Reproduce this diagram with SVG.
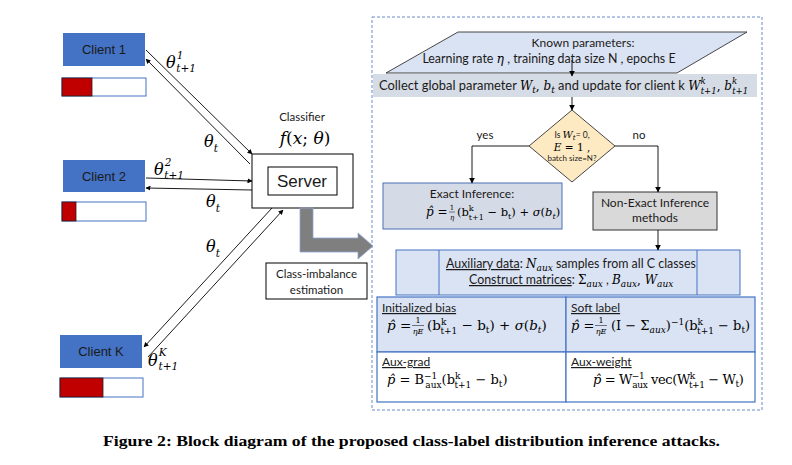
<svg xmlns="http://www.w3.org/2000/svg" width="792" height="465" viewBox="0 0 792 465">
<defs>
<marker id="ah" viewBox="0 0 10 10" refX="9" refY="5" markerWidth="5" markerHeight="5" markerUnits="userSpaceOnUse" orient="auto"><path d="M0,0 L10,5 L0,10 Z" fill="#000"/></marker>
<marker id="ah2" viewBox="0 0 10 10" refX="9" refY="5" markerWidth="6" markerHeight="6" markerUnits="userSpaceOnUse" orient="auto"><path d="M0,0 L10,5 L0,10 Z" fill="#000"/></marker>
</defs>
<style>
.lbl{font-family:Lato,"Liberation Sans",sans-serif;fill:#1a1a1a}
.ar{font-family:"Liberation Sans",Arial,sans-serif;fill:#1a1a1a}
.m{font-family:"DejaVu Serif","Liberation Serif",serif;font-style:italic;fill:#000}
.r{font-family:"DejaVu Serif","Liberation Serif",serif;font-style:normal;fill:#000}
.i{font-style:italic}
.n{font-style:normal}
.th{font-family:"DejaVu Serif","Liberation Serif",serif;font-style:italic;font-size:16px;fill:#000}
.s{font-size:10.5px;font-style:italic}
.ln{stroke:#000;stroke-width:0.9;fill:none}
.client{fill:#4472c4}
.bar{fill:#fff;stroke:#4472c4;stroke-width:1}
.red{fill:#c00000;stroke:#222;stroke-width:0.8}
.cell{stroke:#4472c4;stroke-width:1.2}
</style>
<rect width="792" height="465" fill="#fff"/>

<!-- outer dashed panel -->
<rect x="372" y="17" width="390" height="393" fill="none" stroke="#6a8ac6" stroke-width="1" stroke-dasharray="3,2"/>

<!-- clients -->
<g id="client1">
<rect class="client" x="63" y="33" width="82" height="33"/>
<text class="ar" x="104" y="54" font-size="13" text-anchor="middle">Client 1</text>
<rect class="bar" x="62" y="78" width="84" height="18"/>
<rect class="red" x="62" y="78" width="30" height="18"/>
</g>
<g id="client2">
<rect class="client" x="63" y="160" width="82" height="32"/>
<text class="ar" x="104" y="181" font-size="13" text-anchor="middle">Client 2</text>
<rect class="bar" x="62" y="202" width="84" height="19"/>
<rect class="red" x="62" y="202" width="14" height="19"/>
</g>
<g id="clientK">
<rect class="client" x="60" y="335" width="82" height="33"/>
<text class="ar" x="101" y="356" font-size="13" text-anchor="middle">Client K</text>
<rect class="bar" x="60" y="378" width="83" height="19"/>
<rect class="red" x="60" y="378" width="43" height="19"/>
</g>

<!-- server -->
<g id="server">
<text class="lbl" x="302" y="121" font-size="11.5" text-anchor="middle">Classifier</text>
<text class="m" x="305" y="144" font-size="17" text-anchor="middle">f<tspan class="n">(</tspan>x<tspan class="n">;</tspan> θ<tspan class="n">)</tspan></text>
<rect x="252" y="154" width="101" height="54" fill="#fff" stroke="#000" stroke-width="1"/>
<rect x="268" y="167" width="69" height="28" fill="#fff" stroke="#000" stroke-width="1"/>
<text class="ar" x="302" y="187" font-size="17" text-anchor="middle">Server</text>
</g>

<g id="estimation">
<path d="M300,208 L313,208 L313,238 L358,238 L358,233 L373,246 L358,259 L358,252 L300,252 Z" fill="#7f7f7f" stroke="#8fa6d4" stroke-width="0.8"/>
<rect x="266" y="263" width="101" height="36" fill="#fff" stroke="#000" stroke-width="1"/>
<text class="lbl" x="316.5" y="278" font-size="11.5" text-anchor="middle">Class-imbalance</text>
<text class="lbl" x="316.5" y="294" font-size="11.5" text-anchor="middle">estimation</text>
</g>

<!-- labels on client links -->
<g id="link-labels">
<text class="th" x="166" y="68">θ<tspan class="s" dx="1" dy="-9">1</tspan><tspan class="s" dx="-7" dy="13">t+1</tspan></text>
<text class="th" x="204" y="147">θ<tspan class="s" dy="5">t</tspan></text>
<text class="th" x="154" y="175">θ<tspan class="s" dx="1" dy="-9">2</tspan><tspan class="s" dx="-7" dy="13">t+1</tspan></text>
<text class="th" x="206" y="207">θ<tspan class="s" dy="5">t</tspan></text>
<text class="th" x="206" y="252">θ<tspan class="s" dy="5">t</tspan></text>
<text class="th" x="148" y="366">θ<tspan class="s" dx="1" dy="-10">K</tspan><tspan class="s" dx="-8" dy="14">t+1</tspan></text>
</g>

<!-- right panel nodes -->
<g id="known">
<polygon points="386,73 458,32 747,32 677,73" fill="#dae3f3" stroke="#333" stroke-width="0.9"/>
<text class="lbl" x="583" y="47" font-size="12" text-anchor="middle">Known parameters:</text>
<text class="lbl" x="549" y="63" font-size="12.4" text-anchor="middle">Learning rate <tspan class="m">η</tspan> ,  training data size  N ,  epochs E</text>
</g>
<g id="collect">
<rect x="373" y="74" width="384" height="23" fill="#d6dce5"/>
<text class="lbl" x="379" y="90" font-size="12.9">Collect global parameter <tspan class="m" font-size="12">W<tspan font-size="9" dy="3">t</tspan><tspan class="n" dy="-3">, </tspan>b<tspan font-size="9" dy="3">t</tspan></tspan><tspan dy="-3"> and update for client k </tspan><tspan class="m" font-size="12">W<tspan font-size="8.5" dy="-6">k</tspan><tspan font-size="8.5" dx="-5" dy="10">t+1</tspan><tspan class="n" dy="-4">, </tspan>b<tspan font-size="8.5" dy="-6">k</tspan><tspan font-size="8.5" dx="-5" dy="10">t+1</tspan></tspan></text>
</g>
<g id="decision">
<polygon points="572,110 615,146 572,182 529,146" fill="#fde9c2" stroke="#333" stroke-width="0.9"/>
<text class="lbl" x="572" y="138" font-size="8.5" text-anchor="middle">Is <tspan class="m" font-size="10">W<tspan font-size="7" dy="2">t</tspan></tspan><tspan dy="-2">= 0,</tspan></text>
<text class="m" x="572" y="151" font-size="10.5" text-anchor="middle">E <tspan class="n">= 1 ,</tspan></text>
<text class="lbl" x="572" y="161" font-size="8" text-anchor="middle">batch size=N?</text>
<text class="lbl" x="485" y="139" font-size="11.5" text-anchor="middle">yes</text>
<text class="lbl" x="639" y="139" font-size="11.5" text-anchor="middle">no</text>
</g>
<g id="exact">
<rect x="383" y="183" width="179" height="46" fill="#d5dbe6" stroke="#4a6fb5" stroke-width="1"/>
<text class="lbl" x="472" y="198" font-size="12" text-anchor="middle">Exact Inference:</text>
<text class="m" x="426" y="216" font-size="12">p̂<tspan class="n"> =</tspan></text>
<text class="r" x="452" y="210" font-size="7" text-anchor="middle">1</text>
<line x1="449" y1="212" x2="455" y2="212" stroke="#000" stroke-width="0.5"/>
<text class="m" x="452" y="220" font-size="7" text-anchor="middle">η</text>
<text class="r" x="457" y="216" font-size="11.5">(b<tspan font-size="8" dy="-5">k</tspan><tspan font-size="8" dx="-5" dy="9">t+1</tspan><tspan dy="-4"> − b</tspan><tspan font-size="8" dy="3">t</tspan><tspan dy="-3">) + </tspan><tspan class="i">σ</tspan>(<tspan class="i">b</tspan><tspan class="i" font-size="8" dy="3">t</tspan><tspan dy="-3">)</tspan></text>
</g>
<g id="nonexact">
<rect x="593" y="192" width="124" height="38" fill="#d9d9d9" stroke="#333" stroke-width="1"/>
<text class="lbl" x="655" y="207" font-size="12" text-anchor="middle">Non-Exact Inference</text>
<text class="lbl" x="655" y="222" font-size="12" text-anchor="middle">methods</text>
</g>
<g id="auxiliary">
<rect x="396" y="250" width="344" height="45" fill="#dae3f3" stroke="#4472c4" stroke-width="1"/>
<line x1="439" y1="250" x2="439" y2="295" stroke="#4472c4" stroke-width="1"/>
<line x1="697" y1="250" x2="697" y2="295" stroke="#4472c4" stroke-width="1"/>
<text class="lbl" x="446" y="268" font-size="12.4"><tspan text-decoration="underline">Auxiliary data</tspan>: <tspan class="m" font-size="12">N<tspan font-size="9" dy="3">aux</tspan></tspan><tspan dy="-3"> samples from all C classes</tspan></text>
<text class="lbl" x="469" y="284" font-size="12.4"><tspan text-decoration="underline">Construct matrices</tspan>: <tspan class="r" font-size="12">Σ</tspan><tspan class="m" font-size="9" dy="3">aux</tspan><tspan dy="-3">  , </tspan><tspan class="m" font-size="12">B<tspan font-size="9" dy="3">aux</tspan><tspan class="n" dy="-3">, </tspan>W<tspan font-size="9" dy="3">aux</tspan></tspan></text>
</g>
<g id="methods">
<rect x="377" y="297" width="189" height="55" fill="#dae3f3" class="cell"/>
<rect x="566" y="297" width="189" height="55" fill="#dae3f3" class="cell"/>
<rect x="377" y="352" width="189" height="50" fill="#fff" class="cell"/>
<rect x="566" y="352" width="189" height="50" fill="#fff" class="cell"/>
<text class="lbl" x="382" y="312" font-size="12" text-decoration="underline">Initialized bias</text>
<text class="lbl" x="571" y="312" font-size="12" text-decoration="underline">Soft label</text>
<text class="lbl" x="382" y="366" font-size="12" text-decoration="underline">Aux-grad</text>
<text class="lbl" x="571" y="366" font-size="12" text-decoration="underline">Aux-weight</text>
<!-- initialized bias formula -->
<text class="m" x="387" y="330" font-size="13.5">p̂<tspan class="n"> =</tspan></text>
<text class="r" x="418" y="323" font-size="8" text-anchor="middle">1</text>
<line x1="412" y1="325.5" x2="424" y2="325.5" stroke="#000" stroke-width="0.5"/>
<text class="m" x="418" y="334" font-size="8" text-anchor="middle">ηE</text>
<text class="r" x="427" y="330" font-size="13.5">(b<tspan font-size="9" dy="-5">k</tspan><tspan font-size="9" dx="-6" dy="9">t+1</tspan><tspan dy="-4"> − b</tspan><tspan font-size="9" dy="3">t</tspan><tspan dy="-3">) + </tspan><tspan class="i">σ</tspan>(<tspan class="i">b</tspan><tspan class="i" font-size="9" dy="3">t</tspan><tspan dy="-3">)</tspan></text>
<!-- soft label formula -->
<text class="m" x="571" y="330" font-size="13">p̂<tspan class="n"> =</tspan></text>
<text class="r" x="601" y="323" font-size="8" text-anchor="middle">1</text>
<line x1="595" y1="325.5" x2="607" y2="325.5" stroke="#000" stroke-width="0.5"/>
<text class="m" x="601" y="334" font-size="8" text-anchor="middle">ηE</text>
<text class="r" x="611" y="330" font-size="13">(I − Σ<tspan class="i" font-size="9" dy="3">aux</tspan><tspan dy="-3">)</tspan><tspan font-size="9" dy="-5">−1</tspan><tspan dy="5">(b</tspan><tspan font-size="9" dy="-5">k</tspan><tspan font-size="9" dx="-6" dy="9">t+1</tspan><tspan dy="-4"> − b</tspan><tspan font-size="9" dy="3">t</tspan><tspan dy="-3">)</tspan></text>
<!-- aux-grad formula -->
<text class="m" x="387" y="384" font-size="13">p̂<tspan class="n"> = B</tspan><tspan class="n" font-size="9" dy="-5">−1</tspan><tspan class="n" font-size="9" dx="-12" dy="9">aux</tspan><tspan class="n" dy="-4">(b</tspan><tspan class="n" font-size="9" dy="-5">k</tspan><tspan class="n" font-size="9" dx="-6" dy="9">t+1</tspan><tspan class="n" dy="-4"> − b</tspan><tspan class="n" font-size="9" dy="3">t</tspan><tspan class="n" dy="-3">)</tspan></text>
<!-- aux-weight formula -->
<text class="m" x="593" y="384" font-size="13" letter-spacing="-0.4">p̂<tspan class="n"> = W</tspan><tspan class="n" font-size="9" dy="-5">−1</tspan><tspan class="n" font-size="9" dx="-12" dy="9">aux</tspan><tspan class="n" dy="-4"> vec(W</tspan><tspan class="n" font-size="9" dy="-5">k</tspan><tspan class="n" font-size="9" dx="-6" dy="9">t+1</tspan><tspan class="n" dy="-4"> − W</tspan><tspan class="n" font-size="9" dy="3">t</tspan><tspan class="n" dy="-3">)</tspan></text>
</g>

<!-- connectors -->
<g id="connectors" class="ln">
<line x1="146" y1="50" x2="252" y2="154" marker-end="url(#ah)"/>
<line x1="250" y1="164" x2="146" y2="59" marker-end="url(#ah)"/>
<line x1="146" y1="178" x2="252" y2="181" marker-end="url(#ah)"/>
<line x1="252" y1="190" x2="146" y2="188" marker-end="url(#ah)"/>
<line x1="272" y1="208" x2="144" y2="347" marker-end="url(#ah)"/>
<line x1="148" y1="357" x2="283" y2="210" marker-end="url(#ah)"/>
<line x1="572" y1="60" x2="572" y2="76" marker-end="url(#ah2)"/>
<line x1="572" y1="97" x2="572" y2="110" marker-end="url(#ah2)"/>
<polyline points="529,146 472,146 472,183" marker-end="url(#ah2)"/>
<polyline points="615,146 658,146 658,192" marker-end="url(#ah2)"/>
<line x1="658" y1="230" x2="658" y2="250" marker-end="url(#ah2)"/>
</g>

<text x="103" y="446" font-family="'Liberation Serif',serif" font-weight="bold" font-size="14.5" textLength="617" lengthAdjust="spacingAndGlyphs" fill="#000">Figure 2: Block diagram of the proposed class-label distribution inference attacks.</text>
</svg>
